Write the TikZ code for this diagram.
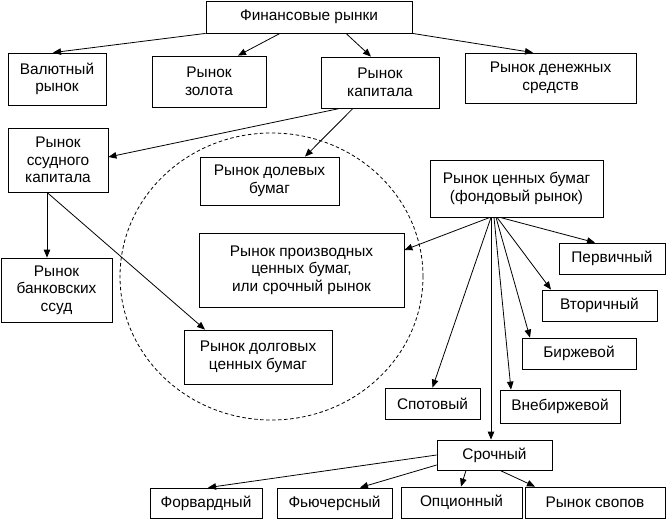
\documentclass[tikz,border=0pt]{standalone}
\usepackage{fontspec}
\setmainfont{Liberation Sans}
\usetikzlibrary{arrows.meta}
\tikzset{
  bx/.style={draw, fill=white, line width=0.8pt, align=center, inner sep=0pt,
    font=\fontsize{15.4}{17.5}\selectfont},
  ar/.style={line width=0.8pt, -{Triangle[length=8pt,width=6.5pt]}},
  circ/.style={line width=0.8pt, dash pattern=on 3.5pt off 2.5pt}
}
\begin{document}
\begin{tikzpicture}[x=1pt,y=-1pt]
\useasboundingbox (0,0) rectangle (666,519);
\draw[circ] (271.5,276.5) ellipse [x radius=151.5pt, y radius=143.5pt];

\node[bx, minimum width=206pt, minimum height=32pt] (fin) at (309,17) {Финансовые рынки};
\node[bx, minimum width=98pt, minimum height=52pt] (val) at (57,79) {Валютный\\рынок};
\node[bx, minimum width=114pt, minimum height=51pt] (zol) at (209,81.5) {Рынок\\золота};
\node[bx, minimum width=118pt, minimum height=51pt] (kap) at (380,82.5) {Рынок\\капитала};
\node[bx, minimum width=171pt, minimum height=50pt] (den) at (550.5,78) {Рынок денежных\\средств};
\node[bx, minimum width=100pt, minimum height=64pt] (ssud) at (58,160) {Рынок\\ссудного\\капитала};
\node[bx, minimum width=139pt, minimum height=48pt] (dol) at (269.5,181) {Рынок долевых\\бумаг};
\node[bx, minimum width=205pt, minimum height=74pt] (proizv) at (301.5,270) {Рынок производных\\ценных бумаг,\\или срочный рынок};
\node[bx, minimum width=148pt, minimum height=54pt] (dolg) at (258,357) {Рынок долговых\\ценных бумаг};
\node[bx, minimum width=111pt, minimum height=64pt] (bank) at (56.5,290) {Рынок\\банковских\\ссуд};
\node[bx, minimum width=173pt, minimum height=57pt] (cen) at (516.5,188.5) {Рынок ценных бумаг\\(фондовый рынок)};
\node[bx, minimum width=106pt, minimum height=31pt] (perv) at (612,258.5) {Первичный};
\node[bx, minimum width=115pt, minimum height=31pt] (vtor) at (599.5,305.5) {Вторичный};
\node[bx, minimum width=114pt, minimum height=31pt] (birzh) at (579,353.5) {Биржевой};
\node[bx, minimum width=120pt, minimum height=33pt] (vne) at (560,406.5) {Внебиржевой};
\node[bx, minimum width=95pt, minimum height=31pt] (spot) at (432.5,403.5) {Спотовый};
\node[bx, minimum width=115pt, minimum height=30pt] (sroch) at (494.5,455) {Срочный};
\node[bx, minimum width=112pt, minimum height=30pt] (forv) at (206,503) {Форвардный};
\node[bx, minimum width=115pt, minimum height=30pt] (fyuch) at (334.5,503) {Фьючерсный};
\node[bx, minimum width=121pt, minimum height=31pt] (opc) at (461.5,502.5) {Опционный};
\node[bx, minimum width=140pt, minimum height=31pt] (svop) at (595,502.5) {Рынок свопов};

% top level
\draw[ar] (fin.south west) -- ([xshift=-4pt]val.north);
\draw[ar] ([xshift=-29pt]fin.south) -- ([xshift=29pt]zol.north);
\draw[ar] ([xshift=37pt]fin.south) -- ([xshift=-9pt]kap.north);
\draw[ar] (fin.south east) -- ([xshift=-17.5pt]den.north);
% capital
\draw[ar] ([xshift=-40pt]kap.south) -- ([yshift=3pt]ssud.east);
\draw[ar] ([xshift=-27pt]kap.south) -- ([xshift=35.5pt]dol.north);
% loan capital
\draw[ar] ([xshift=-11pt]ssud.south) -- ([xshift=-9.5pt]bank.north);
\draw[ar] ([xshift=-11pt]ssud.south) -- ([xshift=-53pt]dolg.north);
% securities fan
\draw[ar] ([xshift=-26.5pt]cen.south) -- ([yshift=20pt]proizv.east);
\draw[ar] ([xshift=-16.5pt]cen.south) -- ([xshift=-17pt]perv.north);
\draw[ar] ([xshift=-19.5pt]cen.south) -- ([xshift=-48.5pt]vtor.north);
\draw[ar] ([xshift=-20.5pt]cen.south) -- ([xshift=-49pt]birzh.north);
\draw[ar] ([xshift=-22.5pt]cen.south) -- ([xshift=-49pt]vne.north);
\draw[ar] ([xshift=-25.5pt]cen.south) -- ([xshift=0pt]spot.north);
\draw[ar] ([xshift=-25.5pt]cen.south) -- ([xshift=-3.5pt]sroch.north);
% forward market
\draw[ar] (sroch.west) -- ([xshift=2pt]forv.north);
\draw[ar] ([yshift=-10pt]sroch.west) -- ([xshift=25.5pt]fyuch.north);
\draw[ar] ([xshift=-28.5pt]sroch.south) -- ([xshift=-0.5pt]opc.north);
\draw[ar] ([xshift=5.5pt]sroch.south) -- ([xshift=-60pt]svop.north);
\end{tikzpicture}
\end{document}
